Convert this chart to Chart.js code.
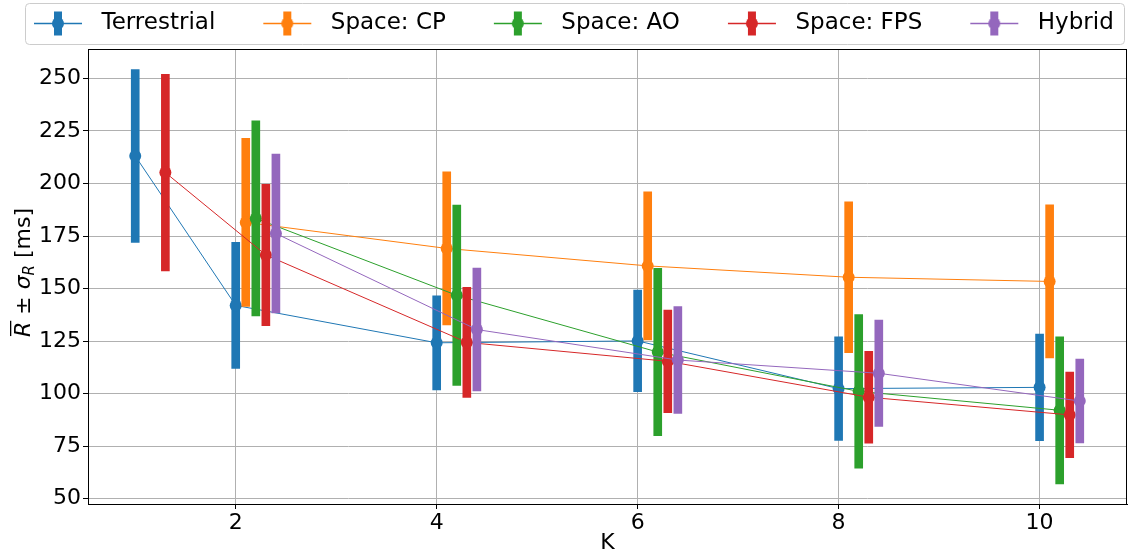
<!DOCTYPE html>
<html>
<head>
<meta charset="utf-8">
<script src="https://cdn.jsdelivr.net/npm/chart.js@4.4.1/dist/chart.umd.min.js"></script>
<style>
  html, body { margin: 0; padding: 0; background: #fff; }
  #wrap { width: 1133px; height: 558px; }
</style>
</head>
<body>
<div id="wrap"><canvas id="chart"></canvas></div>
<script>
// series (mean and std dev in ms)
const seriesNames = ['Terrestrial', 'Space: CP', 'Space: AO', 'Space: FPS', 'Hybrid'];
const seriesColors = ['#1f77b4', '#ff7f0e', '#2ca02c', '#d62728', '#9467bd'];
const xOffsets = [0, 0.1, 0.2, 0.3, 0.4];

const kTerrestrial = [1, 2, 4, 6, 8, 10];
const meanTerrestrial = [213.1, 142, 124.2, 125.1, 102.4, 103];
const sdTerrestrial = [41.1, 30, 22.4, 24.2, 24.7, 25.4];

const kSpaceCP = [2, 4, 6, 8, 10];
const meanSpaceCP = [181.5, 169.1, 160.8, 155.4, 153.4];
const sdSpaceCP = [40, 36.4, 35.2, 35.9, 36.4];

const kSpaceAO = [2, 4, 6, 8, 10];
const meanSpaceAO = [183.4, 146.8, 119.8, 101.1, 92.1];
const sdSpaceAO = [46.4, 42.9, 39.8, 36.5, 35];

const kSpaceFPS = [1, 2, 4, 6, 8, 10];
const meanSpaceFPS = [205.2, 166, 124.4, 115.4, 98.3, 89.9];
const sdSpaceFPS = [46.8, 33.6, 26.2, 24.4, 21.8, 20.4];

const kHybrid = [2, 4, 6, 8, 10];
const meanHybrid = [176.2, 130.5, 116, 109.7, 96.5];
const sdHybrid = [37.8, 29.2, 25.4, 25.3, 19.9];

const xTicks = [2, 4, 6, 8, 10];
const yTicks = [50, 75, 100, 125, 150, 175, 200, 225, 250];

const allK = [kTerrestrial, kSpaceCP, kSpaceAO, kSpaceFPS, kHybrid];
const allMean = [meanTerrestrial, meanSpaceCP, meanSpaceAO, meanSpaceFPS, meanHybrid];
const allSd = [sdTerrestrial, sdSpaceCP, sdSpaceAO, sdSpaceFPS, sdHybrid];

const FONT = 'DejaVu Sans';
const LEG_FONT = 23;
const LEG_PAD = 9, LEG_LEFT = 39, HANDLE_LEN = 48, HANDLE_RIGHT = 8;
const PAD_LEFT = -30; // lets the wide legend stay on one row

// legend handle: line + error bar + marker, with blank room on the left
function makeHandle(color) {
    const c = document.createElement('canvas');
    c.width = LEG_LEFT + HANDLE_LEN + HANDLE_RIGHT;
    c.height = 27;
    const g = c.getContext('2d');
    const x0 = LEG_LEFT, cx = LEG_LEFT + HANDLE_LEN / 2, cy = 13.5;
    g.strokeStyle = color;
    g.lineWidth = 1.3;
    g.beginPath(); g.moveTo(x0, cy); g.lineTo(x0 + HANDLE_LEN, cy); g.stroke();
    g.fillStyle = color;
    g.fillRect(cx - 4, cy - 12, 8, 24);
    g.beginPath(); g.arc(cx, cy, 6, 0, Math.PI * 2); g.fill();
    return c;
}
const handles = seriesColors.map(makeHandle);

const datasets = [];
seriesNames.forEach((name, i) => {
    const pts = allK[i].map((k, j) => ({ x: k + xOffsets[i], y: allMean[i][j] }));
    const bars = allK[i].map((k, j) => ({ x: k + xOffsets[i], y: [allMean[i][j] - allSd[i][j], allMean[i][j] + allSd[i][j]] }));
    datasets.push({
        type: 'line', label: name, data: pts,
        borderColor: seriesColors[i], backgroundColor: seriesColors[i],
        borderWidth: 1, tension: 0, fill: false,
        pointRadius: 6, pointHoverRadius: 6, pointBorderWidth: 0,
        pointBackgroundColor: seriesColors[i],
        order: (4 - i) * 2
    });
    datasets.push({
        type: 'bar', label: name + ' err', data: bars,
        backgroundColor: seriesColors[i], borderWidth: 0,
        barThickness: 8, grouped: false,
        order: (4 - i) * 2 + 1
    });
});

const framePlugin = {
    id: 'frame',
    afterLayout(chart) {
        // put the legend where matplotlib had it
        const lg = chart.legend;
        const dx = 34 - (LEG_PAD + LEG_LEFT) - lg.left;
        lg.left += dx; lg.right += dx;
        lg.top -= 4; lg.bottom -= 4;
    },
    beforeDraw(chart) {
        const ctx = chart.ctx, lg = chart.legend;
        const hb = lg.legendHitBoxes;
        if (!hb || !hb.length) return;
        const x1 = hb[0].left + LEG_LEFT - 9;
        const last = hb[hb.length - 1];
        const x2 = Math.min(last.left + last.width + 10, 1128);
        const y1 = lg.top + 0.5, y2 = lg.top + 41.5;
        ctx.save();
        ctx.fillStyle = 'rgba(255,255,255,0.8)';
        ctx.strokeStyle = '#cccccc';
        ctx.lineWidth = 1;
        ctx.beginPath();
        ctx.roundRect(Math.round(x1) + 0.5, y1, Math.round(x2 - x1), y2 - y1, 4);
        ctx.fill(); ctx.stroke();
        ctx.restore();
    },
    afterDraw(chart) {
        const ctx = chart.ctx, a = chart.chartArea;
        ctx.save();
        ctx.strokeStyle = '#000';
        ctx.lineWidth = 1;
        ctx.strokeRect(a.left + 0.5, a.top + 0.5, a.right - a.left - 1, a.bottom - a.top);
        // y axis label: R̄ ± σ_R [ms]
        ctx.translate(22, (a.top + a.bottom) / 2 - 4);
        ctx.rotate(-Math.PI / 2);
        ctx.fillStyle = '#000';
        ctx.textBaseline = 'alphabetic';
        const parts = [
            { t: 'R', f: 'italic 22px "' + FONT + '"', dy: 0, bar: true },
            { t: ' \u00B1 ', f: '22px "' + FONT + '"', dy: 0 },
            { t: '\u03C3', f: 'italic 22px "' + FONT + '"', dy: 0 },
            { t: 'R', f: 'italic 15px "' + FONT + '"', dy: 4 },
            { t: ' [ms]', f: '22px "' + FONT + '"', dy: 0 }
        ];
        let total = 0;
        parts.forEach(p => { ctx.font = p.f; p.w = ctx.measureText(p.t).width; total += p.w; });
        let x = -total / 2;
        const base = 8;
        parts.forEach(p => {
            ctx.font = p.f;
            ctx.fillText(p.t, x, base + p.dy);
            if (p.bar) {
                ctx.fillRect(x + 1, base - 20, p.w, 1.3);
            }
            x += p.w;
        });
        ctx.restore();
    }
};

new Chart(document.getElementById('chart'), {
    type: 'line',
    data: { datasets },
    plugins: [framePlugin],
    options: {
        responsive: true, maintainAspectRatio: false, animation: false,
        layout: { padding: { top: 7, right: 5, left: PAD_LEFT, bottom: 0 } },
        plugins: {
            tooltip: { enabled: false },
            legend: {
                position: 'top', align: 'start',
                labels: {
                    usePointStyle: true,
                    pointStyleWidth: LEG_LEFT + HANDLE_LEN + HANDLE_RIGHT,
                    padding: LEG_PAD,
                    color: '#000',
                    font: { family: FONT, size: LEG_FONT },
                    generateLabels: () => seriesNames.map((n, i) => ({
                        text: n, pointStyle: handles[i], fillStyle: seriesColors[i],
                        strokeStyle: seriesColors[i], lineWidth: 0, hidden: false,
                        datasetIndex: i * 2, fontColor: '#000'
                    }))
                }
            }
        },
        scales: {
            x: {
                type: 'linear', min: 0.53, max: 10.87, offset: false,
                afterBuildTicks: s => { s.ticks = xTicks.map(v => ({ value: v })); },
                afterFit: s => { s.height = 54; },
                grid: { color: '#b0b0b0', lineWidth: 1, offset: false, tickLength: 5, tickColor: '#000', tickWidth: 1 },
                border: { color: '#000', width: 1 },
                ticks: { color: '#000', font: { family: FONT, size: 22 }, padding: 1, maxRotation: 0 },
                title: { display: true, text: 'K', color: '#000', font: { family: FONT, size: 22 }, padding: { top: 0, bottom: 2 } }
            },
            y: {
                type: 'linear', min: 47.5, max: 264,
                afterBuildTicks: s => { s.ticks = yTicks.map(v => ({ value: v })); },
                afterFit: s => { s.width = 88 - PAD_LEFT; },
                grid: { color: '#b0b0b0', lineWidth: 1, tickLength: 5, tickColor: '#000', tickWidth: 1 },
                border: { color: '#000', width: 1 },
                ticks: { color: '#000', font: { family: FONT, size: 22 }, padding: 2 }
            }
        }
    }
});
</script>
</body>
</html>
